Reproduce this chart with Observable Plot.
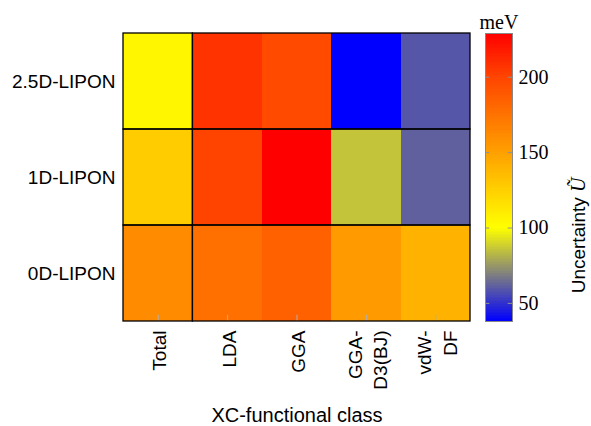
<!DOCTYPE html>
<html>
<head>
<meta charset="utf-8">
<script src="https://cdn.jsdelivr.net/npm/d3@7"></script>
<script src="https://cdn.jsdelivr.net/npm/@observablehq/plot@0.6"></script>
<style>
  html, body { margin: 0; padding: 0; background: #fff; }
  #wrap { position: relative; width: 591px; height: 426px; }
  #wrap > svg { position: absolute; top: 0; }
</style>
</head>
<body>
<div id="wrap"></div>
<script>
// ---- data ----
const systems = ["0D-LIPON", "1D-LIPON", "2.5D-LIPON"];          // bottom to top
const classes = ["Total", "LDA", "GGA", "GGA-\nD3(BJ)", "vdW-\nDF"];
const u0D  = [160.9, 176.1, 184.8, 153.3, 140.5];
const u1D  = [126.8, 200.0, 229.0,  85.7,  61.3];
const u25D = [104.7, 207.3, 196.7,  38.0,  58.8];
const colorTicks = [50, 100, 150, 200];
const colorDomain = [38, 100, 150, 200, 229];
const colorRange = ["#0000ff", "#ffff00", "#ffa000", "#ff4400", "#ff0000"];

const series = [u0D, u1D, u25D];
const cells = [];
series.forEach((vals, j) => vals.forEach((u, i) => cells.push({i, j, u})));

const colorScale = {type: "linear", domain: colorDomain, range: colorRange, interpolate: "rgb", clamp: true};

const sans = "'Liberation Sans', Arial, sans-serif";
const serif = "'Liberation Serif', 'Times New Roman', serif";

const main = Plot.plot({
  width: 591, height: 426,
  marginLeft: 123, marginRight: 121, marginTop: 33, marginBottom: 105,
  style: {fontFamily: sans, fontSize: "19px", color: "#000", background: "transparent"},
  x: {type: "linear", domain: [0, classes.length], axis: null},
  y: {type: "linear", domain: [0, systems.length], axis: null},
  color: colorScale,
  marks: [
    Plot.rect(cells, {x1: d => d.i, x2: d => d.i + 1, y1: d => d.j, y2: d => d.j + 1, fill: "u", inset: 0, shapeRendering: "crispEdges"}),
    Plot.ruleX(classes.map((c, i) => i + 0.5), {x: d => d, y1: 0, y2: 0.065, stroke: "#b0b0b0", strokeWidth: 1}),
    Plot.rect(systems.map((s, j) => j), {x1: 0, x2: 1, y1: d => d, y2: d => d + 1, fill: "none", stroke: "#000", strokeWidth: 1.3}),
    Plot.rect(systems.map((s, j) => j), {x1: 1, x2: classes.length, y1: d => d, y2: d => d + 1, fill: "none", stroke: "#000", strokeWidth: 1.3}),
    Plot.axisY(systems.map((s, j) => j + 0.5), {tickSize: 0, tickPadding: 8, tickFormat: d => systems[Math.floor(d)], fontSize: 19, label: null}),
    Plot.axisX(classes.map((c, i) => i + 0.5), {tickSize: 0, tickPadding: 9, tickRotate: -90, tickFormat: d => classes[Math.floor(d)], fontSize: 19, lineHeight: 1.33, label: null}),
    Plot.text(["XC-functional class"], {frameAnchor: "bottom", dy: 94, fontSize: 20, lineAnchor: "middle"})
  ]
});

const barVals = d3.range(colorDomain[0], colorDomain[colorDomain.length - 1], 1);
const bar = Plot.plot({
  width: 121, height: 426,
  marginLeft: 15, marginRight: 79, marginTop: 33, marginBottom: 105,
  style: {fontFamily: serif, fontSize: "20px", color: "#000", background: "transparent", overflow: "visible"},
  x: {type: "linear", domain: [0, 1], axis: null},
  y: {type: "linear", domain: [colorDomain[0], colorDomain[colorDomain.length - 1]], axis: null},
  color: colorScale,
  marks: [
    Plot.rect(barVals, {x1: 0, x2: 1, y1: d => d, y2: d => Math.min(d + 1.2, colorDomain[colorDomain.length - 1]), fill: d => d + 0.5, shapeRendering: "crispEdges"}),
    Plot.ruleY(colorTicks, {x1: 0, x2: 0.16, stroke: "#909090", strokeWidth: 1}),
    Plot.ruleY(colorTicks, {x1: 0.84, x2: 1, stroke: "#909090", strokeWidth: 1}),
    Plot.frame({stroke: "#888", strokeWidth: 1}),
    Plot.text(colorTicks, {y: d => d, frameAnchor: "right", dx: 6, textAnchor: "start", lineAnchor: "middle", fontSize: 20, fontFamily: serif, fill: "#000"}),
    Plot.text(["meV"], {frameAnchor: "top", dy: -5, lineAnchor: "bottom", fontSize: 20, fontFamily: serif}),
    Plot.text(["Uncertainty Ũ"], {frameAnchor: "right", dx: 66, rotate: -90, fontSize: 19, fontFamily: sans, lineAnchor: "middle"})
  ]
});

const wrap = document.getElementById("wrap");
main.style.left = "0px";
bar.style.left = "470px";
wrap.appendChild(main);
wrap.appendChild(bar);

// style the tilde-U as italic serif symbol
bar.querySelectorAll("text").forEach(t => {
  if (t.textContent.includes("Ũ")) {
    t.textContent = "";
    const a = document.createElementNS("http://www.w3.org/2000/svg", "tspan");
    a.textContent = "Uncertainty ";
    const b = document.createElementNS("http://www.w3.org/2000/svg", "tspan");
    b.textContent = "Ũ";
    b.setAttribute("font-family", serif);
    b.setAttribute("font-style", "italic");
    b.setAttribute("font-size", "20");
    t.appendChild(a); t.appendChild(b);
  }
});
</script>
</body>
</html>
